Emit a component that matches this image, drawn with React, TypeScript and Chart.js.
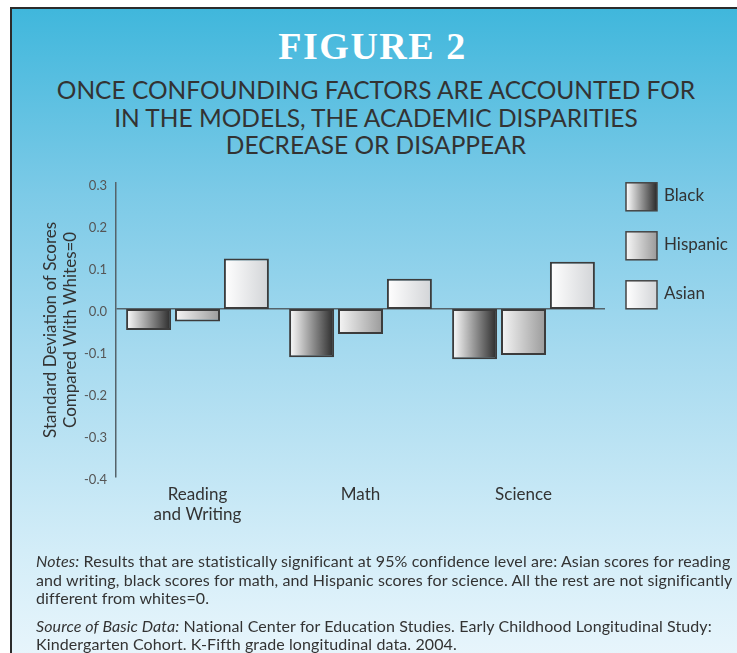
import React, { useEffect, useRef } from "react";
import { Chart, registerables } from "chart.js";
Chart.register(...registerables);

const categories: (string | string[])[] = [["Reading", "and Writing"], "Math", "Science"];
const seriesNames = ["Black", "Hispanic", "Asian"];
const blackValues = [-0.05, -0.115, -0.12];
const hispanicValues = [-0.03, -0.06, -0.11];
const asianValues = [0.12, 0.072, 0.112];
const yMin = -0.4;
const yMax = 0.3;
const yStep = 0.1;
const gradientStops = [
  ["#ffffff", "#2a2a2a"],
  ["#f6f6f6", "#9a9a9a"],
  ["#ffffff", "#d2d4d7"],
];

const CAT_PCT = 0.9;
const BAR_PCT = 0.92;
const FONT = "Lato, 'Open Sans', sans-serif";

function barFill(c: any) {
  const stops = gradientStops[c.datasetIndex] || gradientStops[0];
  const chart = c.chart;
  const xs = chart.scales && chart.scales.x;
  if (!xs || c.dataIndex == null || c.type !== "data") return stops[1];
  const n = categories.length;
  const catW = (xs.right - xs.left) / n;
  const groupW = catW * CAT_PCT;
  const slot = groupW / seriesNames.length;
  const barW = slot * BAR_PCT;
  const center = xs.getPixelForValue(c.dataIndex);
  const left = center - groupW / 2 + c.datasetIndex * slot + (slot - barW) / 2;
  if (!isFinite(left) || !isFinite(barW) || barW <= 0) return stops[1];
  const g = chart.ctx.createLinearGradient(left, 0, left + barW, 0);
  g.addColorStop(0, stops[0]);
  g.addColorStop(1, stops[1]);
  return g;
}

const sideLegend = {
  id: "sideLegend",
  afterDraw(chart: any) {
    const { ctx, chartArea } = chart;
    ctx.save();
    seriesNames.forEach((name, i) => {
      const x = chartArea.right + 21;
      const y = chartArea.top + i * 49;
      const w = 31;
      const h = 28;
      const g = ctx.createLinearGradient(x, 0, x + w, 0);
      g.addColorStop(0, gradientStops[i][0]);
      g.addColorStop(1, gradientStops[i][1]);
      ctx.fillStyle = g;
      ctx.fillRect(x, y, w, h);
      ctx.strokeStyle = "#444";
      ctx.lineWidth = 1.5;
      ctx.strokeRect(x, y, w, h);
      ctx.fillStyle = "#333";
      ctx.font = `17px ${FONT}`;
      ctx.textBaseline = "middle";
      ctx.textAlign = "left";
      ctx.fillText(name, x + 38, y + h / 2 - 1);
    });
    ctx.restore();
  },
};

export default function App() {
  const ref = useRef<HTMLCanvasElement | null>(null);

  useEffect(() => {
    if (!ref.current) return;
    const values = [blackValues, hispanicValues, asianValues];
    const chart = new Chart(ref.current, {
      type: "bar",
      data: {
        labels: categories as any,
        datasets: seriesNames.map((name, i) => ({
          label: name,
          data: values[i],
          backgroundColor: barFill as any,
          borderColor: "#3c3c3c",
          borderWidth: 2,
          borderSkipped: false,
          categoryPercentage: CAT_PCT,
          barPercentage: BAR_PCT,
        })),
      },
      options: {
        responsive: false,
        animation: false,
        events: [],
        layout: { padding: { left: 0, right: 132, top: 12, bottom: 9 } },
        plugins: {
          legend: { display: false },
          tooltip: { enabled: false },
          title: { display: false },
        },
        scales: {
          x: {
            grid: { display: false, drawTicks: false },
            border: { display: false },
            ticks: {
              color: "#333",
              padding: 7,
              font: { family: FONT, size: 17, lineHeight: 1.2 },
              maxRotation: 0,
              autoSkip: false,
            },
            afterFit: (s: any) => {
              s.height = 70;
            },
          },
          y: {
            min: yMin,
            max: yMax,
            grid: {
              drawTicks: false,
              lineWidth: 1.5,
              color: (c: any) =>
                c.tick && Math.abs(c.tick.value) < 1e-9 ? "#55636a" : "rgba(0,0,0,0)",
            },
            border: { display: true, color: "#55636a", width: 1.5 },
            ticks: {
              stepSize: yStep,
              color: "#555",
              padding: 9,
              labelOffset: 3,
              font: { family: FONT, size: 13 },
              callback: (v: any) => (Math.abs(Number(v)) < 1e-9 ? "0.0" : Number(v).toFixed(1)),
            },
            title: {
              display: true,
              text: ["Standard Deviation of Scores", "Compared With Whites=0"],
              color: "#333",
              font: { family: FONT, size: 17, lineHeight: 1.2 },
              padding: { top: 40, bottom: 0 },
            },
            afterFit: (s: any) => {
              s.width = 116;
            },
          },
        },
      },
      plugins: [sideLegend],
    });
    return () => chart.destroy();
  }, []);

  return (
    <div
      style={{
        position: "fixed",
        left: 0,
        top: 0,
        width: 737,
        height: 653,
        overflow: "hidden",
        background: "#fff",
        fontFamily: FONT,
      }}
    >
      <div
        style={{
          position: "absolute",
          left: 10,
          top: 7,
          width: 740,
          height: 660,
          borderLeft: "2px solid #2b2b2b",
          borderTop: "2px solid #2b2b2b",
          background:
            "linear-gradient(to bottom, #40b7dc 0%, #7ccae7 28%, #a6daef 52%, #d3edf8 82%, #eaf6fc 100%)",
        }}
      />
      <div
        style={{
          position: "absolute",
          left: 0,
          width: 745,
          top: 24,
          height: 44,
          lineHeight: "44px",
          textAlign: "center",
          color: "#fff",
          fontFamily: "'Liberation Serif', 'DejaVu Serif', serif",
          fontWeight: "bold",
          fontSize: 38,
          letterSpacing: 1.5,
        }}
      >
        FIGURE 2
      </div>
      <div
        style={{
          position: "absolute",
          left: 0,
          width: 752,
          top: 76,
          lineHeight: "27.5px",
          textAlign: "center",
          color: "#333",
          fontSize: 24.5,
          letterSpacing: 0,
          whiteSpace: "nowrap",
        }}
      >
        ONCE CONFOUNDING FACTORS ARE ACCOUNTED FOR
        <br />
        IN THE MODELS, THE ACADEMIC DISPARITIES
        <br />
        DECREASE OR DISAPPEAR
      </div>
      <canvas
        ref={ref}
        width={737}
        height={390}
        style={{ position: "absolute", left: 0, top: 166, width: 737, height: 390 }}
      />
      <div
        style={{
          position: "absolute",
          left: 36,
          top: 552,
          lineHeight: "18.5px",
          fontSize: 16,
          letterSpacing: 0.1,
          color: "#333",
          whiteSpace: "nowrap",
        }}
      >
        <div>
          <i>Notes:</i> Results that are statistically significant at 95% confidence level are: Asian scores for reading
          <br />
          and writing, black scores for math, and Hispanic scores for science. All the rest are not significantly
          <br />
          different from whites=0.
        </div>
        <div style={{ marginTop: 9 }}>
          <i>Source of Basic Data:</i> National Center for Education Studies. Early Childhood Longitudinal Study:
          <br />
          Kindergarten Cohort. K-Fifth grade longitudinal data. 2004.
        </div>
      </div>
    </div>
  );
}
